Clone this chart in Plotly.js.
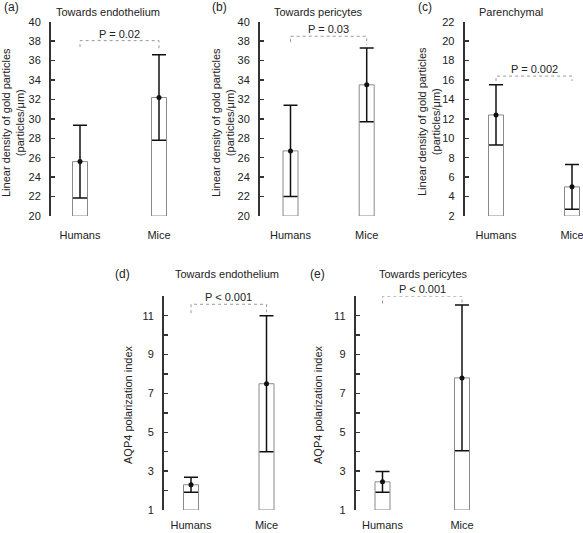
<!DOCTYPE html>
<html>
<head>
<meta charset="utf-8">
<script src="https://cdn.plot.ly/plotly-3.0.1.min.js"></script>
<style>html,body{margin:0;padding:0;background:#fff;}#chart{width:583px;height:533px;}</style>
</head>
<body>
<div id="chart"></div>
<script>
// ---------- data ----------
const groups = ['Humans', 'Mice'];

const endoDensityMean = [25.6, 32.2];
const endoDensityErr  = [3.75, 4.4];
const periDensityMean = [26.7, 33.5];
const periDensityErr  = [4.7, 3.8];
const parenDensityMean = [12.4, 5.0];
const parenDensityErr  = [3.1, 2.3];
const endoIndexMean = [2.3, 7.5];
const endoIndexErr  = [0.38, 3.5];
const periIndexMean = [2.45, 7.8];
const periIndexErr  = [0.53, 3.75];

const pLabels = ['P = 0.02', 'P = 0.03', 'P = 0.002', 'P < 0.001', 'P < 0.001'];
const bracketTop   = [38.05, 38.5, 16.4, 11.59, 12.0];
const bracketLeft  = [37.4, 37.9, 15.9, 11.13, 11.63];
const bracketRight = [37.2, 37.6, 15.9, 11.2, 11.6];

const panelTitles = ['Towards endothelium', 'Towards pericytes', 'Parenchymal', 'Towards endothelium', 'Towards pericytes'];
const panelLetters = ['(a)', '(b)', '(c)', '(d)', '(e)'];
const densityTitle = 'Linear density of gold particles<br>(particles/μm)';
const indexTitle = 'AQP4 polarization index';

// ---------- layout geometry (pixels) ----------
const W = 583, H = 533;
const fx = px => px / W;
const fy = py => 1 - py / H;

const series = [
  {mean: endoDensityMean, err: endoDensityErr},
  {mean: periDensityMean, err: periDensityErr},
  {mean: parenDensityMean, err: parenDensityErr},
  {mean: endoIndexMean, err: endoIndexErr},
  {mean: periIndexMean, err: periIndexErr}
];

const geom = [
  {ax: 51,    h: 80,    m: 159,   right: 186, top: 21.7,  bottom: 216, range: [20, 40], dtick: 2, minor: false, catGap: 11, titleX: 108, titleY: 12, labX: 2,   labY: 7,   ytX: 13,  ytY: 123, yt: densityTitle},
  {ax: 260,   h: 290.5, m: 366.7, right: 392, top: 21.7,  bottom: 216, range: [20, 40], dtick: 2, minor: false, catGap: 11, titleX: 318, titleY: 12, labX: 210, labY: 7,   ytX: 223, ytY: 123, yt: densityTitle},
  {ax: 464.7, h: 496,   m: 572,   right: 583, top: 21.7,  bottom: 216, range: [2, 22],  dtick: 2, minor: false, catGap: 11, titleX: 511, titleY: 12, labX: 416, labY: 7,   ytX: 429, ytY: 121, yt: densityTitle},
  {ax: 164,   h: 191,   m: 266.5, right: 292, top: 296.3, bottom: 510, range: [1, 12],  dtick: 2, minor: true,  catGap: 7,  titleX: 227, titleY: 274, labX: 113, labY: 274, ytX: 128, ytY: 405, yt: indexTitle},
  {ax: 355.7, h: 382.5, m: 462,   right: 488, top: 296.3, bottom: 510, range: [1, 12],  dtick: 2, minor: true,  catGap: 7,  titleX: 423, titleY: 274, labX: 308, labY: 274, ytX: 318, ytY: 405, yt: indexTitle}
];

const FONT = 'Arial, "Liberation Sans", sans-serif';
const TXT = '#222';
const traces = [];
const layout = {
  width: W, height: H,
  margin: {l: 0, r: 0, t: 0, b: 0},
  paper_bgcolor: '#fff', plot_bgcolor: 'rgba(0,0,0,0)',
  showlegend: false,
  font: {family: FONT, size: 11, color: TXT},
  annotations: []
};

geom.forEach((g, i) => {
  const n = i + 1;
  const xa = 'x' + (n === 1 ? '' : n), ya = 'y' + (n === 1 ? '' : n);
  const xk = 'xaxis' + (n === 1 ? '' : n), yk = 'yaxis' + (n === 1 ? '' : n);
  const sp = g.m - g.h;
  const base = g.range[0];
  const s = series[i];

  traces.push({
    type: 'bar', x: groups, y: s.mean.map(v => v - base), base: base,
    width: 15 / sp, xaxis: xa, yaxis: ya,
    marker: {color: '#fff', line: {color: '#8a8a8a', width: 1}},
    hoverinfo: 'skip'
  });
  traces.push({
    type: 'scatter', mode: 'markers', x: groups, y: s.mean, xaxis: xa, yaxis: ya,
    marker: {color: '#111', size: 5},
    error_y: {type: 'data', array: s.err, visible: true, color: '#111', thickness: 1.5, width: 7},
    cliponaxis: false, hoverinfo: 'skip'
  });
  traces.push({
    type: 'scatter', mode: 'lines', xaxis: xa, yaxis: ya,
    x: [groups[0], groups[0], groups[1], groups[1]],
    y: [bracketLeft[i], bracketTop[i], bracketTop[i], bracketRight[i]],
    line: {color: '#9a9a9a', width: 1, dash: 'dot'},
    cliponaxis: false, hoverinfo: 'skip'
  });

  layout[xk] = {
    type: 'category', domain: [fx(g.ax), fx(g.right)],
    range: [-(g.h - g.ax) / sp, 1 + (g.right - g.m) / sp],
    anchor: ya, showline: false, ticks: '', showgrid: false, zeroline: false,
    tickfont: {family: FONT, size: 11, color: TXT}, ticklabelstandoff: g.catGap,
    fixedrange: true
  };
  const yax = {
    domain: [fy(g.bottom), fy(g.top)], range: g.range, anchor: xa,
    tickmode: 'linear', tick0: g.range[0], dtick: g.dtick,
    showline: true, linecolor: '#333', linewidth: 2,
    ticks: 'inside', ticklen: 4, tickwidth: 1.5, tickcolor: '#333',
    showgrid: false, zeroline: false,
    tickfont: {family: FONT, size: 11, color: TXT}, ticklabelstandoff: 6,
    fixedrange: true
  };
  if (g.minor) {
    yax.minor = {dtick: 1, tick0: 1, ticks: 'inside', ticklen: 4, tickwidth: 1.5, tickcolor: '#333', showgrid: false};
  }
  layout[yk] = yax;

  layout.annotations.push({
    xref: xa, yref: ya, x: 0.5, y: bracketTop[i], yanchor: 'bottom', xanchor: 'center',
    text: pLabels[i], showarrow: false, font: {family: FONT, size: 11, color: TXT}, yshift: -1
  });
  layout.annotations.push({
    xref: 'paper', yref: 'paper', x: fx(g.titleX), y: fy(g.titleY), xanchor: 'center', yanchor: 'middle',
    text: panelTitles[i], showarrow: false, font: {family: FONT, size: 11, color: TXT}
  });
  layout.annotations.push({
    xref: 'paper', yref: 'paper', x: fx(g.labX), y: fy(g.labY), xanchor: 'left', yanchor: 'middle',
    text: panelLetters[i], showarrow: false, font: {family: FONT, size: 12, color: TXT}
  });
  layout.annotations.push({
    xref: 'paper', yref: 'paper', x: fx(g.ytX), y: fy(g.ytY), xanchor: 'center', yanchor: 'middle',
    text: g.yt, textangle: -90, showarrow: false, font: {family: FONT, size: 11, color: TXT}
  });
});

Plotly.newPlot('chart', traces, layout, {displayModeBar: false, staticPlot: true});
</script>
</body>
</html>
